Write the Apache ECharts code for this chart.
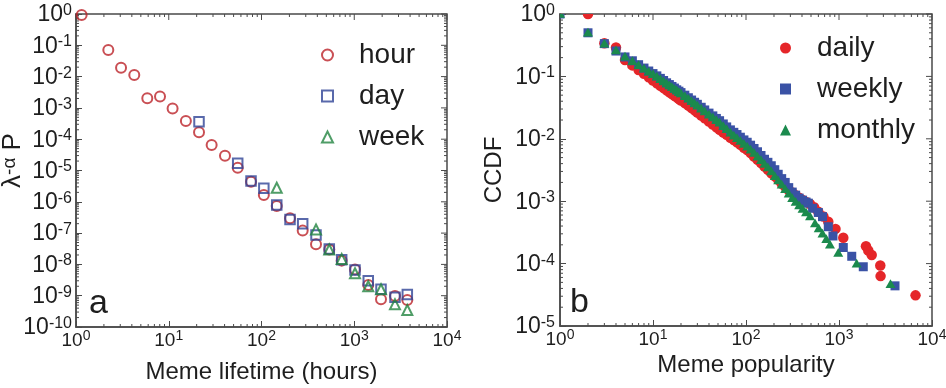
<!DOCTYPE html>
<html><head><meta charset="utf-8">
<script src="https://cdn.jsdelivr.net/npm/echarts@6/dist/echarts.min.js"></script>
<style>html,body{margin:0;padding:0;background:#fff}#c{width:946px;height:388px}</style>
</head><body><div id="c"></div>
<script>
// ---------- tick exponents (labels are 10^e) ----------
const lifetimeExps = [0, 1, 2, 3, 4];
const lambdaExps = [-10, -9, -8, -7, -6, -5, -4, -3, -2, -1, 0];
const popularityExps = [0, 1, 2, 3, 4];
const ccdfExps = [-5, -4, -3, -2, -1, 0];

// ---------- panel a : meme lifetime ----------
const hourX = [1.15, 2.23, 3.06, 4.25, 5.87, 8.05, 11.0, 15.3, 21.2, 29.0, 40.4, 55.4, 77.1, 106, 146, 203, 278, 387, 538, 732, 1019, 1416, 1943, 2750, 3733];
const hourY = [0.93, 0.071, 0.0193, 0.0112, 0.00203, 0.0023, 0.00095, 0.00038, 1.66e-4, 6.5e-5, 2.97e-5, 1.23e-5, 4.4e-6, 1.65e-6, 7.4e-7, 2.97e-7, 1.2e-7, 4.4e-8, 3.0e-8, 1.32e-8, 6.9e-9, 2.2e-9, 7.7e-10, 9.8e-10, 7.3e-10];
const dayX = [21.2, 55.4, 77.1, 106, 146, 203, 278, 387, 538, 732, 1019, 1416, 1943, 2750, 3733];
const dayY = [3.6e-4, 1.7e-5, 4.6e-6, 2.7e-6, 7.9e-7, 2.7e-7, 2.0e-7, 8.7e-8, 3.1e-8, 1.4e-8, 6.6e-9, 3.0e-9, 1.6e-9, 8.9e-10, 1.1e-9];
const weekX = [146, 387, 538, 732, 1019, 1416, 1943, 2750, 3733];
const weekY = [2.8e-6, 1.3e-7, 3.0e-8, 1.5e-8, 5.2e-9, 2.0e-9, 1.6e-9, 5.3e-10, 3.5e-10];

// ---------- panel b : meme popularity CCDF ----------
const dailyX = [2,3,4,5,6,7,8,9,10,11,12,13,14,15,16,17,18,19,20,22,24,26,28,30,33,36,40,44,48,52,57,62,68,74,80,87,95,103,112,122,133,145,158,172,187,204,222,242,264,288,314,342,373,406,442,488,540,599,680,767,917,1112,1950,2066,2248,2780,2800,6650];
const dailyY = [1.0,0.34,0.29,0.183,0.150,0.127,0.110,0.0966,0.0861,0.0775,0.0706,0.0649,0.0600,0.0558,0.0521,0.0490,0.0461,0.0435,0.0412,0.0373,0.0340,0.0312,0.0286,0.0264,0.0236,0.0214,0.0189,0.0169,0.0153,0.0140,0.0126,0.0116,0.0104,0.00955,0.00879,0.00802,0.00721,0.0066,0.0059,0.0052,0.0046,0.0041,0.0036,0.0032,0.0028,0.0025,0.0022,0.0019,0.0017,0.0015,0.00138,0.00125,0.00114,0.00105,0.00097,0.00090,0.00080,0.00068,0.00057,0.00047,0.00036,0.00026,0.00019,0.000162,0.000137,0.000093,0.000063,0.000031];
const weeklyX = [1,2,3,4,5,6,7,8,9,10,11,12,13,14,15,16,17,18,19,20,22,24,26,28,30,33,36,40,44,48,52,57,62,68,74,80,87,95,103,112,122,133,145,158,172,187,204,222,242,264,288,314,342,373,406,442,468,520,599,665,767,861,1112,1371,1824,4000];
const weeklyY = [1.0,0.50,0.335,0.255,0.205,0.178,0.154,0.136,0.122,0.111,0.102,0.093,0.086,0.079,0.074,0.069,0.065,0.061,0.058,0.055,0.050,0.0455,0.0418,0.0385,0.0357,0.0320,0.0290,0.0258,0.0233,0.0212,0.0195,0.0173,0.0155,0.0139,0.0127,0.0117,0.0106,0.0096,0.0088,0.0079,0.0070,0.0062,0.0054,0.0047,0.0042,0.0037,0.0032,0.0027,0.0023,0.0020,0.00165,0.00140,0.00125,0.00112,0.00104,0.00097,0.00093,0.00077,0.00066,0.000565,0.00039,0.000277,0.000181,0.000131,0.000089,0.000044];
const monthlyX = [1,2,3,4,5,6,7,8,9,10,11,12,13,14,15,16,17,18,19,20,22,24,26,28,30,33,36,40,44,48,52,57,62,68,74,80,87,95,103,112,122,133,145,158,172,187,204,222,242,264,288,314,342,373,406,442,488,552,605,665,730,800,982,1549,3580];
const monthlyY = [1.0,0.50,0.335,0.26,0.207,0.175,0.151,0.133,0.119,0.108,0.099,0.0904,0.0831,0.0769,0.0716,0.0670,0.0628,0.0592,0.0558,0.0530,0.0480,0.0438,0.0401,0.0368,0.0340,0.0304,0.0275,0.0244,0.0219,0.0198,0.0180,0.0159,0.0142,0.0125,0.0112,0.0102,0.00919,0.00828,0.00748,0.00666,0.00590,0.00518,0.00453,0.00395,0.00346,0.00300,0.00252,0.00215,0.00183,0.00156,0.00132,0.00111,0.00097,0.00085,0.00075,0.00066,0.00057,0.00044,0.000364,0.00030,0.000245,0.00020,0.000148,0.000099,0.0000466];

// ---------- styles ----------
const FONT = "'Liberation Sans', Arial, Helvetica, sans-serif";
const TXT = '#1e1e1e';
const FRAME = '#4a4a4a';
const C_HOUR = '#bb2329', C_DAY = '#2f4396', C_WEEK = '#238541';
const C_DAILY = '#e52629', C_WEEKLY = '#3a52a5', C_MONTHLY = '#1b8a4d';

const pairs = (xs, ys) => xs.map((x, i) => [x, ys[i]]);
function expLabel(v) { const e = Math.round(Math.log10(v)); return '{b|10}{s|' + e + '}'; }
const xLabelRich = {
  b: { fontSize: 19, fontFamily: FONT, color: TXT, lineHeight: 19, padding: [4, 0, 0, 0] },
  s: { fontSize: 14, fontFamily: FONT, color: TXT, lineHeight: 14, verticalAlign: 'top' }
};
const yLabelRich = {
  b: { fontSize: 23, fontFamily: FONT, color: TXT, lineHeight: 23, padding: [2, 0, 0, 0] },
  s: { fontSize: 16, fontFamily: FONT, color: TXT, lineHeight: 16, verticalAlign: 'top' }
};

// frame ticks (minor ticks on all sides + major ticks on top/right)
function frameTicks(xExps, yExps) {
  const xMin = Math.pow(10, xExps[0]), xMax = Math.pow(10, xExps[xExps.length - 1]);
  const yMin = Math.pow(10, yExps[0]), yMax = Math.pow(10, yExps[yExps.length - 1]);
  const out = [];
  xExps.forEach((e, i) => {
    const b = Math.pow(10, e);
    out.push([b, yMax, 1, 6]);
    if (i < xExps.length - 1) for (let m = 2; m <= 9; m++) { out.push([m * b, yMin, 0, 3], [m * b, yMax, 1, 3]); }
  });
  yExps.forEach((e, i) => {
    const b = Math.pow(10, e);
    out.push([xMax, b, 3, 6]);
    if (i < yExps.length - 1) for (let m = 2; m <= 9; m++) { out.push([xMin, m * b, 2, 3], [xMax, m * b, 3, 3]); }
  });
  return out;
}
function tickRender(params, api) {
  const p = api.coord([api.value(0), api.value(1)]);
  const d = api.value(2), len = api.value(3);
  let x2 = p[0], y2 = p[1];
  if (d === 0) y2 -= len; else if (d === 1) y2 += len; else if (d === 2) x2 += len; else x2 -= len;
  return { type: 'line', shape: { x1: p[0], y1: p[1], x2: x2, y2: y2 }, style: { stroke: FRAME, lineWidth: 1 } };
}
function markerRender(shape, color, size) {
  return function (params, api) {
    const p = api.coord([api.value(0), api.value(1)]);
    const r = size / 2;
    if (shape === 'circle') return { type: 'circle', shape: { cx: p[0], cy: p[1], r: r }, style: { fill: color } };
    if (shape === 'rect') return { type: 'rect', shape: { x: p[0] - r, y: p[1] - r, width: size, height: size }, style: { fill: color } };
    return { type: 'polygon', shape: { points: [[p[0], p[1] - r], [p[0] + r, p[1] + r * 0.75], [p[0] - r, p[1] + r * 0.75]] }, style: { fill: color } };
  };
}

function xAxisCfg(grid, name, gap) {
  return {
    gridIndex: grid, type: 'log', logBase: 10, min: 1, max: 10000, interval: 1,
    axisLine: { show: true, lineStyle: { color: FRAME, width: 1.5 } },
    axisTick: { show: true, inside: true, length: 6, lineStyle: { color: FRAME, width: 1 } },
    minorTick: { show: false }, splitLine: { show: false },
    axisLabel: { formatter: expLabel, rich: xLabelRich, margin: 2 },
    name: name, nameLocation: 'middle', nameGap: gap, nameMoveOverlap: false,
    nameTextStyle: { fontSize: 24, fontFamily: FONT, color: TXT }
  };
}
function yAxisCfg(grid, min, name, gap, nameStyle, margin) {
  return {
    gridIndex: grid, type: 'log', logBase: 10, min: min, max: 1, interval: 1,
    axisLine: { show: true, lineStyle: { color: FRAME, width: 1.5 } },
    axisTick: { show: true, inside: true, length: 6, lineStyle: { color: FRAME, width: 1 } },
    minorTick: { show: false }, splitLine: { show: false },
    axisLabel: { formatter: expLabel, rich: yLabelRich, margin: margin },
    name: name, nameLocation: 'middle', nameGap: gap, nameRotate: 90, nameMoveOverlap: false,
    nameTextStyle: nameStyle
  };
}

const legendText = { fontSize: 28, fontFamily: FONT, color: TXT, lineHeight: 28, padding: [0, 0, 0, 21] };
const hollow = c => ({ color: 'rgba(0,0,0,0)', borderColor: c, borderWidth: 2 });

const option = {
  animation: false,
  backgroundColor: '#fff',
  grid: [
    { left: 76, top: 14, width: 371, height: 313, show: true, borderColor: FRAME, borderWidth: 1.5, backgroundColor: 'rgba(0,0,0,0)', containLabel: false, outerBoundsMode: 'none' },
    { left: 560, top: 14, width: 372, height: 312, show: true, borderColor: FRAME, borderWidth: 1.5, backgroundColor: 'rgba(0,0,0,0)', containLabel: false, outerBoundsMode: 'none' }
  ],
  xAxis: [xAxisCfg(0, 'Meme lifetime (hours)', 33), xAxisCfg(1, 'Meme popularity', 27)],
  yAxis: [
    yAxisCfg(0, 1e-10, 'λ{s|-α} P', 50, { fontSize: 26, fontFamily: FONT, color: TXT, padding: [0, 0, 0, 20], rich: { s: { fontSize: 19, fontFamily: FONT, color: TXT, verticalAlign: 'top', lineHeight: 17 } } }, 4),
    yAxisCfg(1, 1e-5, 'CCDF', 54, { fontSize: 24, fontFamily: FONT, color: TXT }, 5)
  ],
  legend: [
    {
      orient: 'vertical', left: 316, top: 36, itemWidth: 11, itemHeight: 11, itemGap: 13, selectedMode: false,
      textStyle: legendText,
      data: [
        { name: 'hour', icon: 'circle', itemStyle: hollow(C_HOUR) },
        { name: 'day', icon: 'rect', itemStyle: hollow(C_DAY) },
        { name: 'week', icon: 'triangle', itemStyle: hollow(C_WEEK) }
      ]
    },
    {
      orient: 'vertical', left: 775, top: 29, itemWidth: 11, itemHeight: 11, itemGap: 13, selectedMode: false,
      textStyle: legendText,
      data: [
        { name: 'daily', icon: 'circle', itemStyle: { color: C_DAILY } },
        { name: 'weekly', icon: 'rect', itemStyle: { color: C_WEEKLY } },
        { name: 'monthly', icon: 'triangle', itemStyle: { color: C_MONTHLY } }
      ]
    }
  ],
  graphic: [
    { type: 'text', x: 89, y: 304, style: { text: 'a', font: '34px ' + FONT, fill: TXT, verticalAlign: 'middle' } },
    { type: 'text', x: 570, y: 303, style: { text: 'b', font: '34px ' + FONT, fill: TXT, verticalAlign: 'middle' } }
  ],
  series: [
    { type: 'custom', name: 'ticksA', xAxisIndex: 0, yAxisIndex: 0, silent: true, renderItem: tickRender, data: frameTicks(lifetimeExps, lambdaExps), encode: { x: 0, y: 1 }, z: 1 },
    { type: 'custom', name: 'ticksB', xAxisIndex: 1, yAxisIndex: 1, silent: true, renderItem: tickRender, data: frameTicks(popularityExps, ccdfExps), encode: { x: 0, y: 1 }, z: 1 },
    { type: 'scatter', name: 'hour', xAxisIndex: 0, yAxisIndex: 0, data: pairs(hourX, hourY), symbol: 'circle', symbolSize: 10, itemStyle: hollow(C_HOUR), clip: false, emphasis: { disabled: true }, z: 3 },
    { type: 'scatter', name: 'day', xAxisIndex: 0, yAxisIndex: 0, data: pairs(dayX, dayY), symbol: 'rect', symbolSize: 9.5, itemStyle: hollow(C_DAY), clip: false, emphasis: { disabled: true }, z: 3 },
    { type: 'scatter', name: 'week', xAxisIndex: 0, yAxisIndex: 0, data: pairs(weekX, weekY), symbol: 'triangle', symbolSize: 10, itemStyle: hollow(C_WEEK), clip: false, emphasis: { disabled: true }, z: 3 },
    { type: 'custom', name: 'daily', xAxisIndex: 1, yAxisIndex: 1, clip: true, silent: true, renderItem: markerRender('circle', C_DAILY, 10.5), itemStyle: { color: C_DAILY }, data: pairs(dailyX, dailyY), encode: { x: 0, y: 1 }, z: 3 },
    { type: 'custom', name: 'weekly', xAxisIndex: 1, yAxisIndex: 1, clip: true, silent: true, renderItem: markerRender('rect', C_WEEKLY, 9), itemStyle: { color: C_WEEKLY }, data: pairs(weeklyX, weeklyY), encode: { x: 0, y: 1 }, z: 3 },
    { type: 'custom', name: 'monthly', xAxisIndex: 1, yAxisIndex: 1, clip: true, silent: true, renderItem: markerRender('triangle', C_MONTHLY, 10), itemStyle: { color: C_MONTHLY }, data: pairs(monthlyX, monthlyY), encode: { x: 0, y: 1 }, z: 3 }
  ]
};
const chart = echarts.init(document.getElementById('c'), null, { renderer: 'canvas' });
chart.setOption(option);
</script>
</body></html>
